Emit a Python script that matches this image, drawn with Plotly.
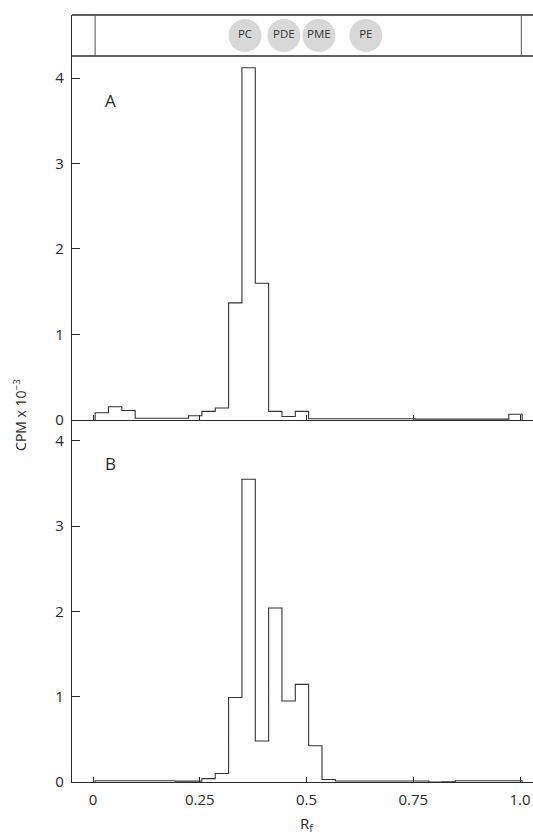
import numpy as np
import plotly.graph_objects as go

# ---- data ----
bin_start = 0.005
bin_width = 1 / 32
cpm_A = [0.085, 0.155, 0.11, 0.02, 0.02, 0.02, 0.02, 0.05, 0.10, 0.14,
         1.37, 4.12, 1.60, 0.10, 0.04, 0.10, 0.015, 0.015, 0.015, 0.015,
         0.015, 0.015, 0.015, 0.015, 0.01, 0.01, 0.01, 0.01, 0.01, 0.01,
         0.01, 0.067]
cpm_B = [0.015, 0.015, 0.015, 0.015, 0.015, 0.015, 0.01, 0.01, 0.04, 0.10,
         0.99, 3.55, 0.48, 2.04, 0.95, 1.145, 0.425, 0.03, 0.012, 0.012,
         0.012, 0.012, 0.012, 0.012, 0.012, 0.0, 0.003, 0.015, 0.015, 0.015,
         0.015, 0.015]
spot_labels = ["PC", "PDE", "PME", "PE"]
spot_rf = [0.356, 0.447, 0.529, 0.639]
x_tickvals = [0, 0.25, 0.5, 0.75, 1.0]
x_ticktext = ["0", "0.25", "0.5", "0.75", "1.0"]
y_tickvals = [0, 1, 2, 3, 4]

FONT = "Open Sans"
INK = "#2a2a2a"


def step_xy(vals):
    edges = bin_start + bin_width * np.arange(len(vals) + 1)
    xs = [edges[0]] + list(edges[:-1]) + [edges[-1]]
    ys = [0] + list(vals) + [0]
    return xs, ys


fig = go.Figure()
xa, ya = step_xy(cpm_A)
xb, yb = step_xy(cpm_B)
fig.add_trace(go.Scatter(x=xa, y=ya, mode="lines", line=dict(shape="hv", color="#333", width=1.1),
                         xaxis="x2", yaxis="y2", showlegend=False, hoverinfo="skip"))
fig.add_trace(go.Scatter(x=xb, y=yb, mode="lines", line=dict(shape="hv", color="#333", width=1.1),
                         xaxis="x", yaxis="y", showlegend=False, hoverinfo="skip"))
# TLC spots in header
fig.add_trace(go.Scatter(x=spot_rf, y=[0.5] * len(spot_rf), mode="markers+text",
                         marker=dict(size=33, color="#d8d8d8", line=dict(width=0)),
                         text=spot_labels, textposition="middle center",
                         textfont=dict(family=FONT, size=11.5, color="#333"),
                         xaxis="x3", yaxis="y3", showlegend=False, hoverinfo="skip"))

XR = [-0.0492, 1.0304]
dB = [0, 0.472]
dA = [0.472, 0.9465]
dH = [0.9465, 1.0]

common_x = dict(range=XR, showgrid=False, zeroline=False, showline=True, linecolor=INK,
                linewidth=1.4, ticks="inside", ticklen=5, tickcolor=INK,
                tickvals=x_tickvals, ticktext=x_ticktext)
common_y = dict(showgrid=False, zeroline=False, showline=True, linecolor=INK, linewidth=1.4,
                ticks="inside", ticklen=8, tickcolor=INK, tickvals=y_tickvals,
                tickfont=dict(family=FONT, size=15, color=INK), ticklabelstandoff=4)

fig.update_layout(
    width=533, height=835,
    margin=dict(l=72, r=0, t=15, b=53),
    paper_bgcolor="white", plot_bgcolor="white",
    font=dict(family=FONT, color=INK),
    xaxis=dict(**common_x, anchor="y", tickfont=dict(family=FONT, size=15, color=INK),
               ticklabelstandoff=4),
    xaxis2=dict(**common_x, anchor="y2", matches="x", showticklabels=False),
    xaxis3=dict(range=XR, anchor="y3", matches="x", showline=False, showticklabels=False,
                showgrid=False, zeroline=False, ticks=""),
    yaxis=dict(**common_y, domain=dB, range=[0, 4.244], anchor="x"),
    yaxis2=dict(**common_y, domain=dA, range=[0, 4.257], anchor="x2"),
    yaxis3=dict(domain=dH, range=[0, 1], anchor="x3", showgrid=False, zeroline=False,
                showline=True, linecolor=INK, linewidth=1.4, showticklabels=False, ticks=""),
    shapes=[
        dict(type="line", xref="paper", yref="y3 domain", x0=0, x1=1.05, y0=1, y1=1,
             line=dict(color=INK, width=1.4)),
        dict(type="line", xref="paper", yref="y3 domain", x0=0, x1=1.05, y0=0, y1=0,
             line=dict(color=INK, width=1.4)),
        dict(type="line", xref="x3", yref="y3 domain", x0=0.005, x1=0.005, y0=0, y1=1,
             line=dict(color="#555", width=1)),
        dict(type="line", xref="x3", yref="y3 domain", x0=1.003, x1=1.003, y0=0, y1=1,
             line=dict(color="#555", width=1)),
    ],
    annotations=[
        dict(text="A", x=0.04, y=3.74, xref="x2", yref="y2", showarrow=False,
             font=dict(family=FONT, size=17, color=INK)),
        dict(text="B", x=0.04, y=3.73, xref="x", yref="y", showarrow=False,
             font=dict(family=FONT, size=17, color=INK)),
        dict(text="R<sub>f</sub>", x=0.5, y=-0.055, xref="x", yref="paper", showarrow=False,
             yanchor="middle", font=dict(family=FONT, size=15, color=INK)),
        dict(text="CPM x 10<sup>\u22123</sup>", x=-0.113, y=0.4785, xref="paper", yref="paper",
             showarrow=False, textangle=-90, xanchor="center", yanchor="middle",
             font=dict(family=FONT, size=14, color=INK)),
    ],
)

fig.write_html("out.html", config={"displayModeBar": False},
               post_script="document.body.style.margin='0';document.body.style.overflow='hidden';")
